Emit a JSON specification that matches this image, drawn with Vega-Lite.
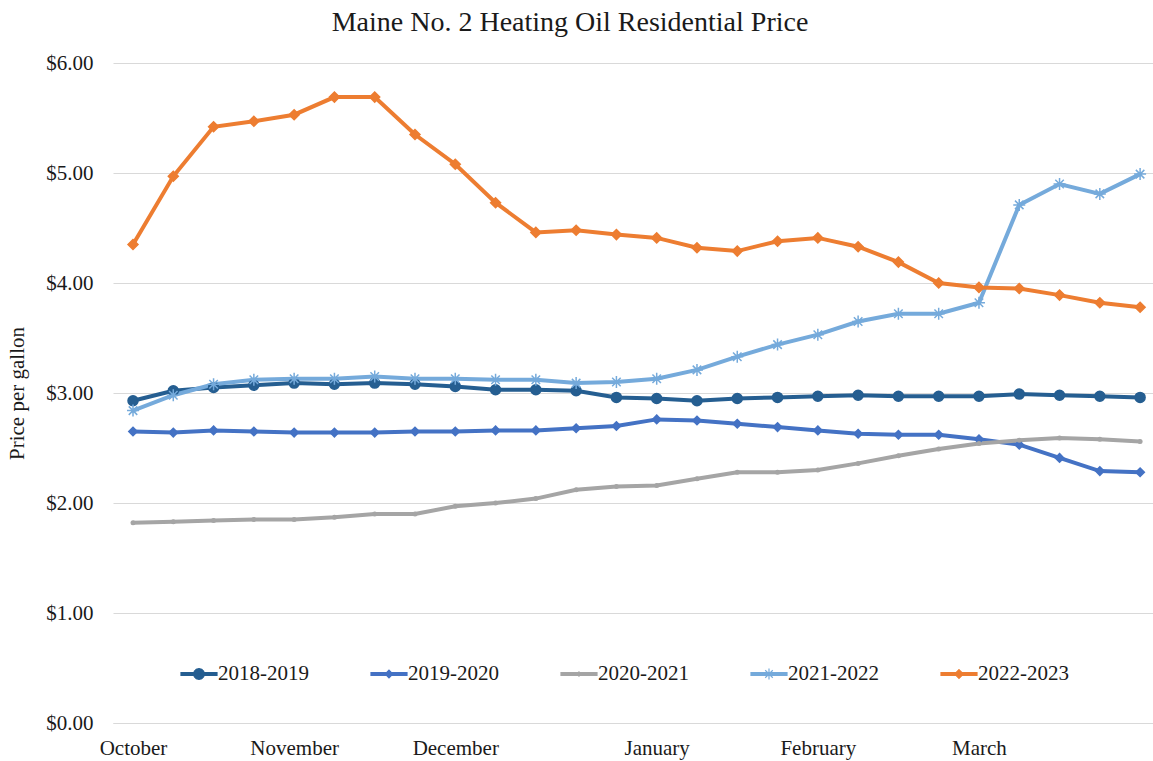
{
  "$schema": "https://vega.github.io/schema/vega-lite/v6.json",
  "width": 1040,
  "height": 660,
  "autosize": {"type": "none"},
  "padding": {"left": 113, "top": 63, "right": 0, "bottom": 38},
  "background": "white",
  "config": {"view": {"stroke": null}, "font": "Liberation Serif"},
  "title": {"text": "Maine No. 2 Heating Oil Residential Price", "font": "Liberation Serif", "fontSize": 28, "fontWeight": "normal", "color": "#1a1a1a", "anchor": "middle", "dx": -63, "offset": 15},
  "datasets": {
    "prices": [
      {"season":"2018-2019","week":0,"price":2.93},{"season":"2018-2019","week":1,"price":3.02},{"season":"2018-2019","week":2,"price":3.05},{"season":"2018-2019","week":3,"price":3.07},{"season":"2018-2019","week":4,"price":3.09},{"season":"2018-2019","week":5,"price":3.08},{"season":"2018-2019","week":6,"price":3.09},{"season":"2018-2019","week":7,"price":3.08},{"season":"2018-2019","week":8,"price":3.06},{"season":"2018-2019","week":9,"price":3.03},{"season":"2018-2019","week":10,"price":3.03},{"season":"2018-2019","week":11,"price":3.02},{"season":"2018-2019","week":12,"price":2.96},{"season":"2018-2019","week":13,"price":2.95},{"season":"2018-2019","week":14,"price":2.93},{"season":"2018-2019","week":15,"price":2.95},{"season":"2018-2019","week":16,"price":2.96},{"season":"2018-2019","week":17,"price":2.97},{"season":"2018-2019","week":18,"price":2.98},{"season":"2018-2019","week":19,"price":2.97},{"season":"2018-2019","week":20,"price":2.97},{"season":"2018-2019","week":21,"price":2.97},{"season":"2018-2019","week":22,"price":2.99},{"season":"2018-2019","week":23,"price":2.98},{"season":"2018-2019","week":24,"price":2.97},{"season":"2018-2019","week":25,"price":2.96},
      {"season":"2019-2020","week":0,"price":2.65},{"season":"2019-2020","week":1,"price":2.64},{"season":"2019-2020","week":2,"price":2.66},{"season":"2019-2020","week":3,"price":2.65},{"season":"2019-2020","week":4,"price":2.64},{"season":"2019-2020","week":5,"price":2.64},{"season":"2019-2020","week":6,"price":2.64},{"season":"2019-2020","week":7,"price":2.65},{"season":"2019-2020","week":8,"price":2.65},{"season":"2019-2020","week":9,"price":2.66},{"season":"2019-2020","week":10,"price":2.66},{"season":"2019-2020","week":11,"price":2.68},{"season":"2019-2020","week":12,"price":2.70},{"season":"2019-2020","week":13,"price":2.76},{"season":"2019-2020","week":14,"price":2.75},{"season":"2019-2020","week":15,"price":2.72},{"season":"2019-2020","week":16,"price":2.69},{"season":"2019-2020","week":17,"price":2.66},{"season":"2019-2020","week":18,"price":2.63},{"season":"2019-2020","week":19,"price":2.62},{"season":"2019-2020","week":20,"price":2.62},{"season":"2019-2020","week":21,"price":2.58},{"season":"2019-2020","week":22,"price":2.53},{"season":"2019-2020","week":23,"price":2.41},{"season":"2019-2020","week":24,"price":2.29},{"season":"2019-2020","week":25,"price":2.28},
      {"season":"2020-2021","week":0,"price":1.82},{"season":"2020-2021","week":1,"price":1.83},{"season":"2020-2021","week":2,"price":1.84},{"season":"2020-2021","week":3,"price":1.85},{"season":"2020-2021","week":4,"price":1.85},{"season":"2020-2021","week":5,"price":1.87},{"season":"2020-2021","week":6,"price":1.90},{"season":"2020-2021","week":7,"price":1.90},{"season":"2020-2021","week":8,"price":1.97},{"season":"2020-2021","week":9,"price":2.00},{"season":"2020-2021","week":10,"price":2.04},{"season":"2020-2021","week":11,"price":2.12},{"season":"2020-2021","week":12,"price":2.15},{"season":"2020-2021","week":13,"price":2.16},{"season":"2020-2021","week":14,"price":2.22},{"season":"2020-2021","week":15,"price":2.28},{"season":"2020-2021","week":16,"price":2.28},{"season":"2020-2021","week":17,"price":2.30},{"season":"2020-2021","week":18,"price":2.36},{"season":"2020-2021","week":19,"price":2.43},{"season":"2020-2021","week":20,"price":2.49},{"season":"2020-2021","week":21,"price":2.54},{"season":"2020-2021","week":22,"price":2.57},{"season":"2020-2021","week":23,"price":2.59},{"season":"2020-2021","week":24,"price":2.58},{"season":"2020-2021","week":25,"price":2.56},
      {"season":"2021-2022","week":0,"price":2.84},{"season":"2021-2022","week":1,"price":2.98},{"season":"2021-2022","week":2,"price":3.08},{"season":"2021-2022","week":3,"price":3.12},{"season":"2021-2022","week":4,"price":3.13},{"season":"2021-2022","week":5,"price":3.13},{"season":"2021-2022","week":6,"price":3.15},{"season":"2021-2022","week":7,"price":3.13},{"season":"2021-2022","week":8,"price":3.13},{"season":"2021-2022","week":9,"price":3.12},{"season":"2021-2022","week":10,"price":3.12},{"season":"2021-2022","week":11,"price":3.09},{"season":"2021-2022","week":12,"price":3.10},{"season":"2021-2022","week":13,"price":3.13},{"season":"2021-2022","week":14,"price":3.21},{"season":"2021-2022","week":15,"price":3.33},{"season":"2021-2022","week":16,"price":3.44},{"season":"2021-2022","week":17,"price":3.53},{"season":"2021-2022","week":18,"price":3.65},{"season":"2021-2022","week":19,"price":3.72},{"season":"2021-2022","week":20,"price":3.72},{"season":"2021-2022","week":21,"price":3.82},{"season":"2021-2022","week":22,"price":4.71},{"season":"2021-2022","week":23,"price":4.90},{"season":"2021-2022","week":24,"price":4.81},{"season":"2021-2022","week":25,"price":4.99},
      {"season":"2022-2023","week":0,"price":4.35},{"season":"2022-2023","week":1,"price":4.97},{"season":"2022-2023","week":2,"price":5.42},{"season":"2022-2023","week":3,"price":5.47},{"season":"2022-2023","week":4,"price":5.53},{"season":"2022-2023","week":5,"price":5.69},{"season":"2022-2023","week":6,"price":5.69},{"season":"2022-2023","week":7,"price":5.35},{"season":"2022-2023","week":8,"price":5.08},{"season":"2022-2023","week":9,"price":4.73},{"season":"2022-2023","week":10,"price":4.46},{"season":"2022-2023","week":11,"price":4.48},{"season":"2022-2023","week":12,"price":4.44},{"season":"2022-2023","week":13,"price":4.41},{"season":"2022-2023","week":14,"price":4.32},{"season":"2022-2023","week":15,"price":4.29},{"season":"2022-2023","week":16,"price":4.38},{"season":"2022-2023","week":17,"price":4.41},{"season":"2022-2023","week":18,"price":4.33},{"season":"2022-2023","week":19,"price":4.19},{"season":"2022-2023","week":20,"price":4.00},{"season":"2022-2023","week":21,"price":3.96},{"season":"2022-2023","week":22,"price":3.95},{"season":"2022-2023","week":23,"price":3.89},{"season":"2022-2023","week":24,"price":3.82},{"season":"2022-2023","week":25,"price":3.78}
    ]
  },
  "data": {"name": "prices"},
  "encoding": {
    "x": {
      "field": "week", "type": "quantitative",
      "scale": {"domain": [-0.4965, 25.32], "nice": false, "zero": false},
      "axis": {
        "values": [0, 4, 8, 13, 17, 21],
        "labelExpr": "datum.value == 0 ? 'October' : datum.value == 4 ? 'November' : datum.value == 8 ? 'December' : datum.value == 13 ? 'January' : datum.value == 17 ? 'February' : 'March'",
        "grid": false, "ticks": false, "domainColor": "#D9D9D9", "domainWidth": 1,
        "labelPadding": 14, "title": null, "labelFont": "Liberation Serif", "labelFontSize": 21,
        "labelColor": "#1a1a1a", "labelFlush": false, "labelOverlap": false
      }
    },
    "y": {
      "field": "price", "type": "quantitative",
      "scale": {"domain": [0, 6], "nice": false},
      "axis": {
        "values": [0, 1, 2, 3, 4, 5, 6], "format": "$.2f", "title": "Price per gallon",
        "ticks": false, "domain": false, "gridColor": "#D9D9D9", "gridWidth": 1,
        "labelPadding": 20, "labelFont": "Liberation Serif", "labelFontSize": 21, "labelColor": "#1a1a1a",
        "titlePadding": 18, "titleFont": "Liberation Serif", "titleFontSize": 21, "titleFontWeight": "normal", "titleColor": "#1a1a1a"
      }
    },
    "color": {
      "field": "season", "type": "nominal",
      "scale": {"domain": ["2018-2019", "2019-2020", "2020-2021", "2021-2022", "2022-2023"], "range": ["#255E91", "#4472C4", "#A5A5A5", "#75AADB", "#ED7D31"]},
      "legend": {
        "title": null, "orient": "none", "legendX": 67, "legendY": 592, "direction": "horizontal", "columns": 5,
        "columnPadding": 59, "padding": 0, "symbolSize": 1296, "symbolStrokeWidth": 1.2,
        "labelFont": "Liberation Serif", "labelFontSize": 21, "labelColor": "#1a1a1a", "labelOffset": 0,
        "encode": {
          "symbols": {
            "update": {
              "shape": {"signal": "'M-1,-0.08L1,-0.08L1,0.08L-1,0.08ZM0,-0.36L0,-0.36M0,0.36L0,0.36' + (datum.value == '2018-2019' ? 'M0.3,0L0.26,0.15L0.15,0.26L0,0.3L-0.15,0.26L-0.26,0.15L-0.3,0L-0.26,-0.15L-0.15,-0.26L0,-0.3L0.15,-0.26L0.26,-0.15Z' : datum.value == '2021-2022' ? 'M-0.3,0L0.3,0M0,-0.3L0,0.3M-0.21,-0.21L0.21,0.21M-0.21,0.21L0.21,-0.21' : datum.value == '2020-2021' ? 'M0,-0.12L0.12,0L0,0.12L-0.12,0Z' : datum.value == '2019-2020' ? 'M0,-0.21L0.21,0L0,0.21L-0.21,0Z' : 'M0,-0.24L0.24,0L0,0.24L-0.24,0Z')"},
              "fill": {"signal": "scale('color', datum.value)"},
              "stroke": {"signal": "scale('color', datum.value)"}
            }
          }
        }
      }
    }
  },
  "layer": [
    {"mark": {"type": "line", "strokeWidth": 4}},
    {
      "transform": [{"filter": "datum.season != '2020-2021'"}],
      "mark": {"type": "point", "filled": true, "opacity": 1, "strokeWidth": 1.5, "size": 100},
      "encoding": {
        "shape": {"field": "season", "type": "nominal", "legend": null,
          "scale": {"domain": ["2022-2023", "2021-2022", "2019-2020", "2018-2019"], "range": ["diamond", "M-1.2,0L1.2,0M0,-1.2L0,1.2M-0.85,-0.85L0.85,0.85M-0.85,0.85L0.85,-0.85", "M0,-0.85L0.85,0L0,0.85L-0.85,0Z", "circle"]}},
        "stroke": {"field": "season", "type": "nominal", "legend": null,
          "scale": {"domain": ["2022-2023", "2021-2022", "2019-2020", "2018-2019"], "range": ["#ED7D31", "#75AADB", "#4472C4", "#255E91"]}}
      }
    },
    {
      "transform": [{"filter": "datum.season == '2020-2021'"}],
      "mark": {"type": "point", "filled": true, "opacity": 1, "size": 25, "shape": "circle"}
    }
  ]
}
